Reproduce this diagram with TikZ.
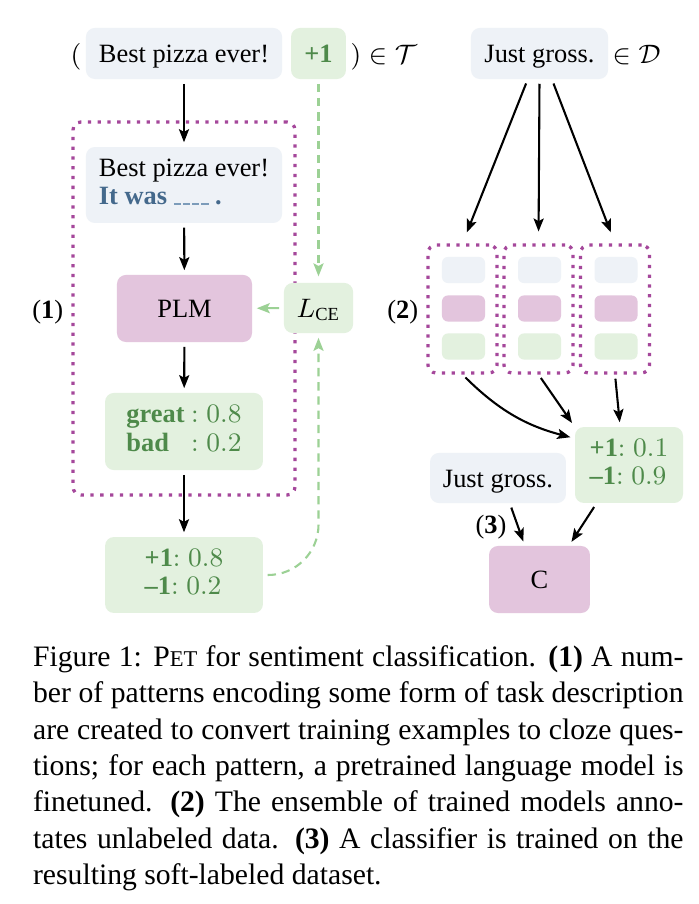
\documentclass[tikz,border=0pt]{standalone}
\usepackage{fontspec}
\setmainfont{Liberation Serif}
\usepackage{amsmath}
\usetikzlibrary{arrows.meta}
\definecolor{inputblue}{RGB}{238, 242, 247}
\definecolor{outgreen}{RGB}{227, 241, 223}
\definecolor{modelpink}{RGB}{227, 197, 221}
\definecolor{dotpurple}{RGB}{165, 71, 155}
\definecolor{lossgreen}{RGB}{156, 209, 149}
\definecolor{textgreen}{RGB}{78, 138, 74}
\definecolor{textblue}{RGB}{68, 105, 140}
\definecolor{blankblue}{RGB}{124, 156, 186}
\newcommand{\clozegap}{\textcolor{blankblue}{\rule{2.4pt}{0.5pt}\kern0.7pt\rule{2.4pt}{0.5pt}\kern0.7pt\rule{2.4pt}{0.5pt}\kern0.7pt\rule{2.4pt}{0.5pt}}}

\begin{document}
\begin{tikzpicture}[
        x=0.337pt, y=-0.337pt,
        every node/.style={font=\rmfamily\fontsize{8.9}{9.6}\selectfont},
        oneline/.style={text height=6.3pt, text depth=0pt},
        inputbox/.style={rectangle, rounded corners=3pt, fill=inputblue, inner sep=0pt},
        probbox/.style={rectangle, rounded corners=3pt, fill=outgreen, text=textgreen, inner sep=0pt},
        modelbox/.style={rectangle, rounded corners=3pt, fill=modelpink, inner sep=0pt},
        tinybox/.style={rectangle, rounded corners=2pt, minimum width=14.5pt, minimum height=8.8pt, inner sep=0pt},
        dotframe/.style={rectangle, rounded corners=2.7pt, draw=dotpurple, line width=1.1pt, dash pattern=on 1.1pt off 2.2pt, inner sep=0pt},
        tag/.style={inner sep=0pt, anchor=base west},
        arr/.style={-{Stealth[length=4.4pt, width=3.4pt, inset=0.9pt]}, line width=0.7pt, shorten >=1.4pt, shorten <=1.4pt},
        lossflow/.style={arr, draw=lossgreen},
        lossdash/.style={lossflow, dash pattern=on 2.8pt off 2pt}
    ]
    \fill[white] (0,0) rectangle (698,904);
    \useasboundingbox (0,0) rectangle (698,904);

    % Labelled training example
    \node[inner sep=0pt, anchor=base east] (lpar) at (82,63.3) {$($};
    \node[inputbox, oneline, minimum width=66.1pt, minimum height=17.2pt] (sent) at (184,53.5) {Best pizza ever!};
    \node[probbox, oneline, minimum width=18.5pt, minimum height=17.2pt] (label) at (318.5,53.5) {\textbf{+1}};
    \node[tag] (intrain) at (350,63.3) {$)\in\mathcal{T}$};

    % (1) pattern + finetuning
    \node[dotframe, minimum width=74.8pt, minimum height=125.7pt] (pet) at (184,308.5) {};
    \node[tag] (step1) at (31.7,318.3) {(\textbf{1})};
    \node[inputbox, minimum width=66.1pt, minimum height=25.6pt] (pattern) at (184,185) {\begin{tabular}{@{}l@{}}Best pizza ever!\\ \textcolor{textblue}{\textbf{It was}\ \clozegap\ \textbf{.}}\end{tabular}};
    \node[modelbox, oneline, minimum width=45.5pt, minimum height=22.6pt] (plm) at (184.5,308.5) {PLM};
    \node[probbox, oneline, text=black, minimum width=23.3pt, minimum height=16.9pt] (lce) at (318.5,308) {$L_{\mathrm{CE}}$};
    \node[probbox, minimum width=53.2pt, minimum height=26pt] (verbal) at (184,431.5) {\begin{tabular}{@{}l@{ }l@{}}\textbf{great} & $:0.8$\\ \textbf{bad} & $:0.2$\end{tabular}};
    \node[probbox, minimum width=53.2pt, minimum height=25.6pt] (out) at (184,575) {\begin{tabular}{@{}l@{}}\textbf{+1}$:0.8$\\ \textbf{--1}$:0.2$\end{tabular}};

    \draw[arr] (sent) -- (pattern);
    \draw[arr] (pattern) -- (plm);
    \draw[arr] (plm) -- (verbal);
    \draw[arr] (verbal) -- (out);
    \draw[lossdash, shorten >=2pt] (label) -- (lce);
    \draw[lossflow] (lce) -- (plm);
    \draw[lossdash, rounded corners=17pt] (out.east) -| (lce.south);

    % Unlabelled example
    \node[inputbox, oneline, minimum width=46.2pt, minimum height=17.2pt] (unl) at (539.5,53.5) {Just gross.};
    \node[tag] (inunl) at (612,63.3) {$\in\mathcal{D}$};

    % (2) ensemble of finetuned models
    \node[tag] (step2) at (386.7,318.3) {(\textbf{2})};
    \foreach \mx [count=\i] in {462.5, 538.5, 615} {
        \node[dotframe, minimum width=23.3pt, minimum height=43.1pt] (m\i) at (\mx,309) {};
        \node[tinybox, fill=inputblue] (m\i-in) at (\mx+1,270) {};
        \node[tinybox, fill=modelpink] (m\i-plm) at (\mx+1,308.5) {};
        \node[tinybox, fill=outgreen] (m\i-out) at (\mx+1,346.5) {};
    }
    \draw[arr, shorten >=4pt] ([xshift=-4pt]unl.south) -- (m1.north);
    \draw[arr, shorten >=4pt] (unl.south) -- (m2.north);
    \draw[arr, shorten >=4pt] ([xshift=4.2pt]unl.south) -- (m3.north);

    \node[probbox, minimum width=36.4pt, minimum height=25.6pt] (soft) at (629,465) {\begin{tabular}{@{}l@{}}\textbf{+1}$:0.1$\\ \textbf{--1}$:0.9$\end{tabular}};
    \draw[arr] (m1.south) to[bend right=15] ([yshift=-4pt]soft.north west);
    \draw[arr] (m2.south) -- (soft.north west);
    \draw[arr] (m3.south) -- ([xshift=-3pt]soft.north);

    % (3) final classifier
    \node[inputbox, oneline, minimum width=45.8pt, minimum height=16.9pt] (unl2) at (498,478) {Just gross.};
    \node[tag] (step3) at (475,533.3) {(\textbf{3})};
    \node[modelbox, oneline, minimum width=34pt, minimum height=22.6pt] (clf) at (539.5,579.5) {C};
    \draw[arr] ([xshift=4pt]unl2.south) -- ([xshift=-5pt]clf.north);
    \draw[arr] ([xshift=-11pt]soft.south) -- ([xshift=10pt]clf.north);

    % Caption
    \node[anchor=base west, inner sep=0pt, text width=219.2pt, align=justify, font=\rmfamily\fontsize{10}{12.23}\selectfont] (caption) at (32.5,666.7) {Figure 1: P{\fontsize{7.6}{9}\selectfont ET} for sentiment classification. \textbf{(1)} A num-\linebreak ber of patterns encoding some form of task description\linebreak are created to convert training examples to cloze ques-\linebreak tions; for each pattern, a pretrained language model is\linebreak finetuned. \textbf{(2)} The ensemble of trained models anno-\linebreak tates unlabeled data. \textbf{(3)} A classifier is trained on the\linebreak resulting soft-labeled dataset.};
\end{tikzpicture}
\end{document}
